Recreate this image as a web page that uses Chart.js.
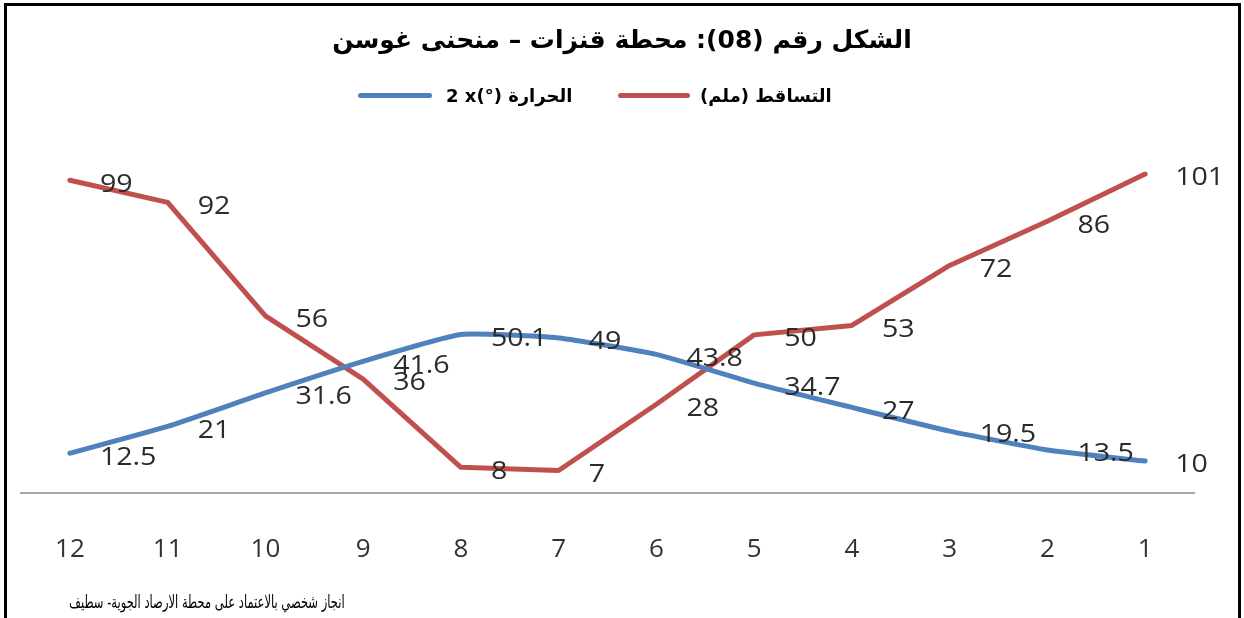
<!DOCTYPE html>
<html lang="ar">
<head>
<meta charset="utf-8">
<script src="https://cdn.jsdelivr.net/npm/chart.js@4.4.1/dist/chart.umd.min.js"></script>
<style>
  html, body { margin: 0; padding: 0; background: #ffffff; }
  #wrap { position: relative; width: 1244px; height: 618px; overflow: hidden; background: #fff; }
  #c { position: absolute; left: 0; top: 0; }
  #frame { position: absolute; left: 4px; top: 3px; width: 1231px; height: 700px;
           border: 3px solid #000; border-bottom: none; pointer-events: none; }
  #title { position: absolute; left: 0; top: 25px; width: 1244px; text-align: center;
           direction: rtl; font: bold 25px "DejaVu Sans", sans-serif; color: #000; }
  .leg { position: absolute; top: 84px; height: 22px; display: flex; align-items: center;
         font: bold 18px "DejaVu Sans", sans-serif; color: #000; white-space: nowrap; }
  .sw { display: inline-block; height: 5px; border-radius: 3px; flex: none; }
  #footer { position: absolute; right: 899px; top: 591px; direction: rtl;
            font: 18px "DejaVu Sans", sans-serif; color: #000; white-space: nowrap;
            transform: scaleX(0.64); transform-origin: right center; }
</style>
</head>
<body>
<div id="wrap">
  <canvas id="c" width="1244" height="618"></canvas>
  <div id="frame"></div>
  <div id="title">الشكل رقم (08): محطة قنزات – منحنى غوسن</div>
  <div class="leg" id="legBlue" style="left:358px;"><span class="sw" style="width:74px;background:#4f81bd;"></span><span style="margin-left:14px;direction:ltr;">2 x(°) <span dir="rtl">الحرارة</span></span></div>
  <div class="leg" id="legRed" style="left:618px;"><span class="sw" style="width:72px;background:#c0504d;"></span><span style="margin-left:10px;direction:rtl;">التساقط (ملم)</span></div>
  <div id="footer">انجاز شخصي بالاعتماد على محطة الارصاد الجوية- سطيف</div>
</div>
<script>
// ---- data ----
const months = ["12", "11", "10", "9", "8", "7", "6", "5", "4", "3", "2", "1"];
const temperatureX2 = [12.5, 21, 31.6, 41.6, 50.1, 49, 43.8, 34.7, 27, 19.5, 13.5, 10];
const precipitation = [99, 92, 56, 36, 8, 7, 28, 50, 53, 72, 86, 101];
const tempLabel = "الحرارة (°) x 2";
const precipLabel = "التساقط (ملم)";
const yMin = 0;
const yMax = 110;

const valueLabels = {
  id: 'valueLabels',
  afterDatasetsDraw(chart) {
    const ctx = chart.ctx;
    const sx = 1.1;
    ctx.save();
    ctx.font = '26px "Open Sans", sans-serif';
    ctx.fillStyle = '#2b2b2b';
    ctx.textAlign = 'left';
    ctx.textBaseline = 'middle';
    chart.data.datasets.forEach((ds, di) => {
      const meta = chart.getDatasetMeta(di);
      meta.data.forEach((pt, i) => {
        ctx.save();
        ctx.translate(pt.x + 30, pt.y + 4);
        ctx.scale(sx, 1);
        ctx.fillText(String(ds.data[i]), 0, 0);
        ctx.restore();
      });
    });
    ctx.restore();
  }
};

new Chart(document.getElementById('c'), {
  type: 'line',
  data: {
    labels: months,
    datasets: [
      { label: tempLabel, data: temperatureX2, borderColor: '#4f81bd', backgroundColor: '#4f81bd',
        borderWidth: 5, pointRadius: 0, tension: 0.15, borderCapStyle: 'round', borderJoinStyle: 'round' },
      { label: precipLabel, data: precipitation, borderColor: '#c0504d', backgroundColor: '#c0504d',
        borderWidth: 5, pointRadius: 0, tension: 0, borderCapStyle: 'round', borderJoinStyle: 'round' }
    ]
  },
  options: {
    responsive: false,
    animation: false,
    layout: { padding: { left: 21, right: 50, top: 145.6, bottom: 12.2 } },
    plugins: { legend: { display: false }, title: { display: false }, tooltip: { enabled: false } },
    scales: {
      x: {
        offset: true,
        grid: { display: false, drawTicks: false },
        border: { display: true, color: '#a6a6a6', width: 2 },
        ticks: { padding: 41, color: '#333333', font: { family: '"Open Sans", sans-serif', size: 26, lineHeight: 1.2 } }
      },
      y: { display: false, min: yMin, max: yMax }
    }
  },
  plugins: [valueLabels]
});
</script>
</body>
</html>
